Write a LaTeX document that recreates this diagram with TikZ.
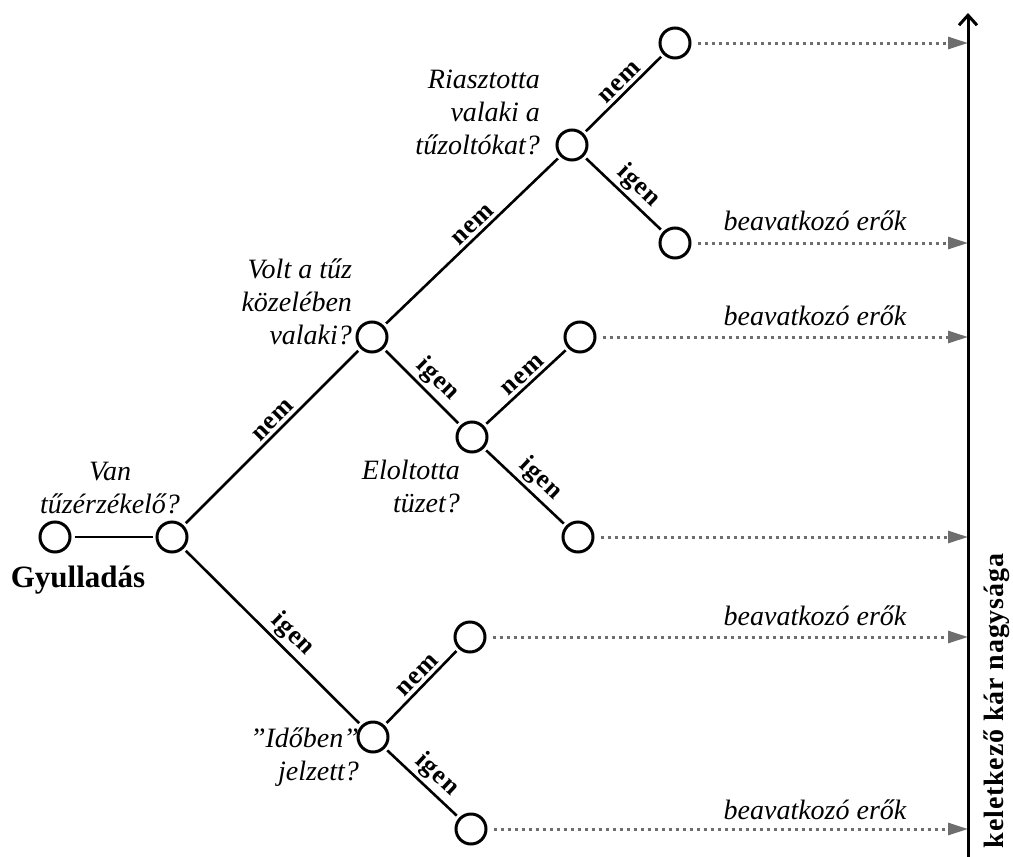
\documentclass[tikz,border=0pt]{standalone}
\usepackage{fontspec}
\setmainfont{Liberation Serif}
\usepackage{xcolor}
\usetikzlibrary{arrows.meta,positioning}
\definecolor{dotgray}{HTML}{6E6E6E}
\tikzset{
  evnode/.style={circle,draw=black,line width=1.5pt,minimum size=15pt,inner sep=0pt},
  treeedge/.style={line width=1.3pt,shorten <=1.5pt,shorten >=1.5pt},
  startedge/.style={treeedge,line width=0.8pt},
  edgelbl/.style={font=\fontsize{13}{15}\selectfont\bfseries\addfontfeature{LetterSpace=4},sloped,above,pos=0.55,inner sep=1.5pt},
  qtext/.style={font=\fontsize{14}{16.5}\selectfont\itshape},
  outarrow/.style={dotgray,dotted,line width=1.5pt,-{Triangle[length=10pt,width=6pt]},shorten <=3pt},
  axisline/.style={line width=1.5pt,-{Straight Barb[length=5pt,width=9pt,line width=1.5pt]}},
}

\begin{document}
\begin{tikzpicture}[x=0.5pt,y=-0.5pt]
  \useasboundingbox (0,0) rectangle (1013,857);
  \node[evnode] (nStart) at (55,537) {};
  \node[evnode] (nVan) at (172,537) {};
  \node[evnode] (nVolt) at (372,337) {};
  \node[evnode] (nRiaszt) at (572,145) {};
  \node[evnode] (nR1) at (675,43) {};
  \node[evnode] (nR2) at (675,243) {};
  \node[evnode] (nElolt) at (472,437) {};
  \node[evnode] (nE1) at (580,337) {};
  \node[evnode] (nE2) at (578,537) {};
  \node[evnode] (nIdo) at (373,737) {};
  \node[evnode] (nI1) at (470,637) {};
  \node[evnode] (nI2) at (471,829) {};
  \coordinate (cAxB) at (968,857);
  \coordinate (cAxT) at (968,13);
  \coordinate (tR1) at (968,43);
  \coordinate (tR2) at (968,243);
  \coordinate (tE1) at (968,337);
  \coordinate (tE2) at (968,537);
  \coordinate (tI1) at (968,637);
  \coordinate (tI2) at (968,829);
  \node[qtext,align=center] (qVan) at (110,488) {Van\\tűzérzékelő?};
  \node[font=\fontsize{15.5}{17}\selectfont\bfseries] (lStart) at (78,580) {Gyulladás};
  \node[qtext,align=right,anchor=east] (qVolt) at (359,302) {Volt a tűz\\közelében\\valaki?};
  \node[qtext,align=right,anchor=east] (qRiaszt) at (547,112) {Riasztotta\\valaki a\\tűzoltókat?};
  \node[qtext,align=right,anchor=east] (qElolt) at (467,486) {Eloltotta\\tüzet?};
  \node[qtext,align=right,anchor=east] (qIdo) at (366,757) {\symbol{34}Időben\symbol{34}\\jelzett?};
  \node[qtext] (bR2) at (815,221) {beavatkozó erők};
  \node[qtext] (bE1) at (815,316) {beavatkozó erők};
  \node[qtext] (bI1) at (815,616) {beavatkozó erők};
  \node[qtext] (bI2) at (815,810) {beavatkozó erők};
  \node[font=\fontsize{14}{16}\selectfont\bfseries\addfontfeature{LetterSpace=3},rotate=90] (lAxis) at (997,701) {keletkező kár nagysága};
  \draw[startedge] (nStart) -- (nVan);
  \draw[treeedge] (nVan) -- node[edgelbl] {nem} (nVolt);
  \draw[treeedge] (nVan) -- node[edgelbl] {igen} (nIdo);
  \draw[treeedge] (nVolt) -- node[edgelbl] {nem} (nRiaszt);
  \draw[treeedge] (nVolt) -- node[edgelbl] {igen} (nElolt);
  \draw[treeedge] (nRiaszt) -- node[edgelbl] {nem} (nR1);
  \draw[treeedge] (nRiaszt) -- node[edgelbl] {igen} (nR2);
  \draw[treeedge] (nElolt) -- node[edgelbl] {nem} (nE1);
  \draw[treeedge] (nElolt) -- node[edgelbl] {igen} (nE2);
  \draw[treeedge] (nIdo) -- node[edgelbl] {nem} (nI1);
  \draw[treeedge] (nIdo) -- node[edgelbl] {igen} (nI2);
  \draw[outarrow] (nR1) -- (tR1);
  \draw[outarrow] (nR2) -- (tR2);
  \draw[outarrow] (nE1) -- (tE1);
  \draw[outarrow] (nE2) -- (tE2);
  \draw[outarrow] (nI1) -- (tI1);
  \draw[outarrow] (nI2) -- (tI2);
  \draw[axisline] (cAxB) -- (cAxT);
\end{tikzpicture}
\end{document}
